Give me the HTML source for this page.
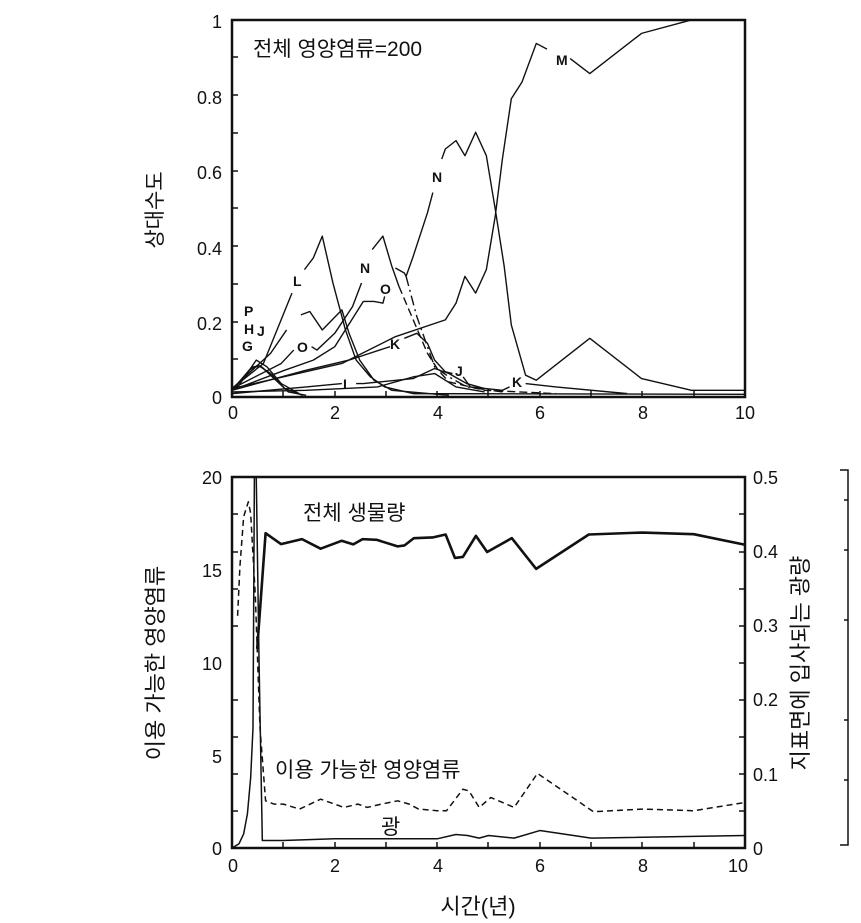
<!DOCTYPE html>
<html><head><meta charset="utf-8"><style>
html,body{margin:0;padding:0;background:#fff;}
svg{display:block;font-family:"Liberation Sans","Noto Sans CJK KR",sans-serif;}
.l{fill:none;stroke:#111;stroke-width:1.4;vector-effect:non-scaling-stroke;stroke-linejoin:round;}
.t{font-size:18px;fill:#111;}
.s{font-size:14px;fill:#111;font-weight:bold;}
</style></head><body>
<svg width="861" height="923" viewBox="0 0 861 923">
<!-- TOP CHART -->
<rect x="232" y="20" width="513" height="377" fill="none" stroke="#111" stroke-width="2.5"/>
<g stroke="#111" stroke-width="1.5">
<line x1="283" y1="397" x2="283" y2="391"/><line x1="335" y1="397" x2="335" y2="391"/><line x1="386" y1="397" x2="386" y2="391"/><line x1="437" y1="397" x2="437" y2="391"/><line x1="488" y1="397" x2="488" y2="391"/><line x1="540" y1="397" x2="540" y2="391"/><line x1="591" y1="397" x2="591" y2="391"/><line x1="642" y1="397" x2="642" y2="391"/><line x1="694" y1="397" x2="694" y2="391"/>
<line x1="232" y1="359" x2="238" y2="359"/><line x1="232" y1="322" x2="238" y2="322"/><line x1="232" y1="284" x2="238" y2="284"/><line x1="232" y1="246" x2="238" y2="246"/><line x1="232" y1="208" x2="238" y2="208"/><line x1="232" y1="171" x2="238" y2="171"/><line x1="232" y1="133" x2="238" y2="133"/><line x1="232" y1="95" x2="238" y2="95"/><line x1="232" y1="57" x2="238" y2="57"/>
</g>
<g class="t" text-anchor="end">
<text x="222" y="28">1</text><text x="222" y="104">0.8</text><text x="222" y="179">0.6</text><text x="222" y="255">0.4</text><text x="222" y="330">0.2</text><text x="222" y="404">0</text>
</g>
<g class="t" text-anchor="middle">
<text x="233" y="419">0</text><text x="335" y="419">2</text><text x="438" y="419">4</text><text x="540" y="419">6</text><text x="643" y="419">8</text><text x="745" y="419">10</text>
</g>
<text x="162" y="210" class="t" style="font-size:21px" text-anchor="middle" transform="rotate(-90 162 210)">상대수도</text>
<text x="253" y="56" class="t" style="font-size:21px">전체 영양염류=200</text>
<g transform="matrix(0.3567 0 0 0.3351 199.2 -1.8)">
<polyline class="l" points="92,1165 400,1090 550,1010 690,960 720,910 745,830 775,880 805,810 830,650 850,480 875,300 905,250 945,135 975,152"/>
<polyline class="l" points="1040,180 1095,225 1240,105 1380,65 1530,65"/>
<polyline class="l" points="580,830 600,770 640,640 655,580"/>
<polyline class="l" points="680,480 690,450 720,425 745,470 775,400 805,470 830,630 855,800 875,975 915,1125 945,1140 1095,1015 1240,1135 1380,1170 1530,1170"/>
<polyline class="l" points="92,1165 180,1090 260,880"/>
<polyline class="l" points="295,810 320,775 345,710 375,850 410,990 440,1080 480,1130 520,1160 600,1180 1530,1182"/>
<polyline class="l" points="92,1165 200,1060 245,990"/>
<polyline class="l" points="285,945 310,935 345,990 400,930 420,1000 450,1080 490,1140 540,1170 700,1185"/>
<polyline class="l" points="92,1165 230,1090 265,1050"/>
<polyline class="l" points="315,1040 330,1050 380,1000 430,920 455,850"/>
<polyline class="l" points="485,750 515,710 540,800 560,860"/>
<polyline class="l" stroke-dasharray="8,4" points="560,860 600,960 640,1060 670,1110 700,1145 800,1170 1000,1180"/>
<polyline class="l" points="92,1170 240,1110 320,1080 380,1040 460,905 490,905 515,910 520,890"/>
<polyline class="l" points="550,805 575,820 580,830"/>
<polyline class="l" stroke-dasharray="10,4,2,4" points="580,830 610,950 640,1040 660,1100 700,1130 750,1160 850,1175"/>
<polyline class="l" points="92,1170 300,1110 420,1080 520,1045 535,1040"/>
<polyline class="l" points="575,1015 610,1000 640,1030 660,1080 690,1115 710,1120"/>
<polyline class="l" points="740,1130 760,1160 850,1170 870,1160"/>
<polyline class="l" points="915,1150 1000,1160 1200,1180"/>
<polyline class="l" points="92,1180 300,1160 400,1150"/>
<polyline class="l" points="440,1150 460,1150 600,1135 660,1105 700,1120 750,1150 800,1165"/>
<polyline class="l" points="92,1175 300,1170 500,1160 600,1130 660,1120 720,1160 800,1175"/>
<polyline class="l" points="92,1170 140,1110 165,1095 200,1120 240,1165 290,1185"/>
<polyline class="l" points="92,1170 150,1100 175,1100 215,1140 250,1175 300,1185"/>
<polyline class="l" points="105,1165 160,1080 190,1100 230,1150 280,1180"/>
</g>
<g class="s">
<text x="293" y="286">L</text><text x="257" y="336">J</text><text x="297" y="352">O</text>
<text x="244" y="316">P</text><text x="244" y="334">H</text><text x="242" y="351">G</text>
<text x="360" y="273">N</text><text x="380" y="294">O</text><text x="432" y="182">N</text>
<text x="390" y="349">K</text><text x="455" y="376">J</text><text x="512" y="387">K</text><text x="343" y="389">I</text>
<text x="556" y="65">M</text>
</g>
<!-- BOTTOM CHART -->
<rect x="232" y="477" width="513" height="371" fill="none" stroke="#111" stroke-width="2.5"/>
<g stroke="#111" stroke-width="1.5">
<line x1="283" y1="848" x2="283" y2="842"/><line x1="335" y1="848" x2="335" y2="842"/><line x1="386" y1="848" x2="386" y2="842"/><line x1="437" y1="848" x2="437" y2="842"/><line x1="488" y1="848" x2="488" y2="842"/><line x1="540" y1="848" x2="540" y2="842"/><line x1="591" y1="848" x2="591" y2="842"/><line x1="642" y1="848" x2="642" y2="842"/><line x1="694" y1="848" x2="694" y2="842"/>
<line x1="232" y1="811" x2="238" y2="811"/><line x1="232" y1="774" x2="238" y2="774"/><line x1="232" y1="737" x2="238" y2="737"/><line x1="232" y1="700" x2="238" y2="700"/><line x1="232" y1="626" x2="238" y2="626"/><line x1="232" y1="589" x2="238" y2="589"/><line x1="232" y1="552" x2="238" y2="552"/><line x1="232" y1="514" x2="238" y2="514"/>
<line x1="745" y1="514" x2="739" y2="514"/><line x1="745" y1="552" x2="739" y2="552"/><line x1="745" y1="589" x2="739" y2="589"/><line x1="745" y1="626" x2="739" y2="626"/><line x1="745" y1="663" x2="739" y2="663"/><line x1="745" y1="700" x2="739" y2="700"/><line x1="745" y1="737" x2="739" y2="737"/><line x1="745" y1="774" x2="739" y2="774"/><line x1="745" y1="811" x2="739" y2="811"/>
<polyline fill="none" points="840,470 848,470 848,845 840,845"/>
<line x1="848" y1="500" x2="844" y2="500"/><line x1="848" y1="550" x2="844" y2="550"/><line x1="848" y1="620" x2="844" y2="620"/><line x1="848" y1="720" x2="844" y2="720"/><line x1="848" y1="780" x2="844" y2="780"/>
</g>
<g class="t" text-anchor="end">
<text x="222" y="484">20</text><text x="222" y="577">15</text><text x="222" y="670">10</text><text x="222" y="763">5</text><text x="222" y="855">0</text>
</g>
<g class="t">
<text x="753" y="484">0.5</text><text x="753" y="558">0.4</text><text x="753" y="632">0.3</text><text x="753" y="706">0.2</text><text x="753" y="781">0.1</text><text x="753" y="855">0</text>
</g>
<g class="t" text-anchor="middle">
<text x="233" y="872">0</text><text x="335" y="872">2</text><text x="438" y="872">4</text><text x="540" y="872">6</text><text x="643" y="872">8</text><text x="738" y="872">10</text>
</g>
<text x="163" y="663" class="t" style="font-size:22px" text-anchor="middle" transform="rotate(-90 163 663)">이용 가능한 영양염류</text>
<text x="808" y="663" class="t" style="font-size:22px" text-anchor="middle" transform="rotate(-90 808 663)">지표면에 입사되는 광량</text>
<text x="478" y="914" class="t" style="font-size:22px" text-anchor="middle">시간(년)</text>
<text x="303" y="520" class="t" style="font-size:21px">전체 생물량</text>
<text x="275" y="777" class="t" style="font-size:21px">이용 가능한 영양염류</text>
<text x="381" y="834" class="t" style="font-size:21px">광</text>
<g transform="matrix(0.4664 0 0 0.3304 134.06 463.8)">
<polyline class="l" style="stroke-width:1.5" points="210,1163 225,1150 235,1120 243,1060 250,950 255,800 258,40 262,40 268,600 275,1140 290,1140 320,1140 430,1135 650,1135 690,1122 715,1125 740,1133 760,1125 815,1133 870,1110 980,1133 1310,1125"/>
<polyline class="l" style="stroke-width:2.6" points="264,560 282,210 315,243 360,228 400,257 445,233 470,244 490,228 520,230 565,250 580,247 600,225 640,223 668,214 688,285 705,282 733,218 757,267 810,225 862,318 975,214 1090,208 1200,213 1310,245"/>
<polyline class="l" style="stroke-width:1.5" stroke-dasharray="6,4" points="222,460 227,310 235,160 245,115 250,150 260,400 270,800 282,1020 300,1030 320,1030 355,1045 400,1015 450,1040 480,1030 500,1040 530,1030 565,1020 590,1030 610,1045 650,1050 670,1050 705,985 718,990 740,1040 765,1010 815,1040 865,937 985,1053 1090,1045 1200,1050 1310,1025"/>
</g>
</svg>
</body></html>
